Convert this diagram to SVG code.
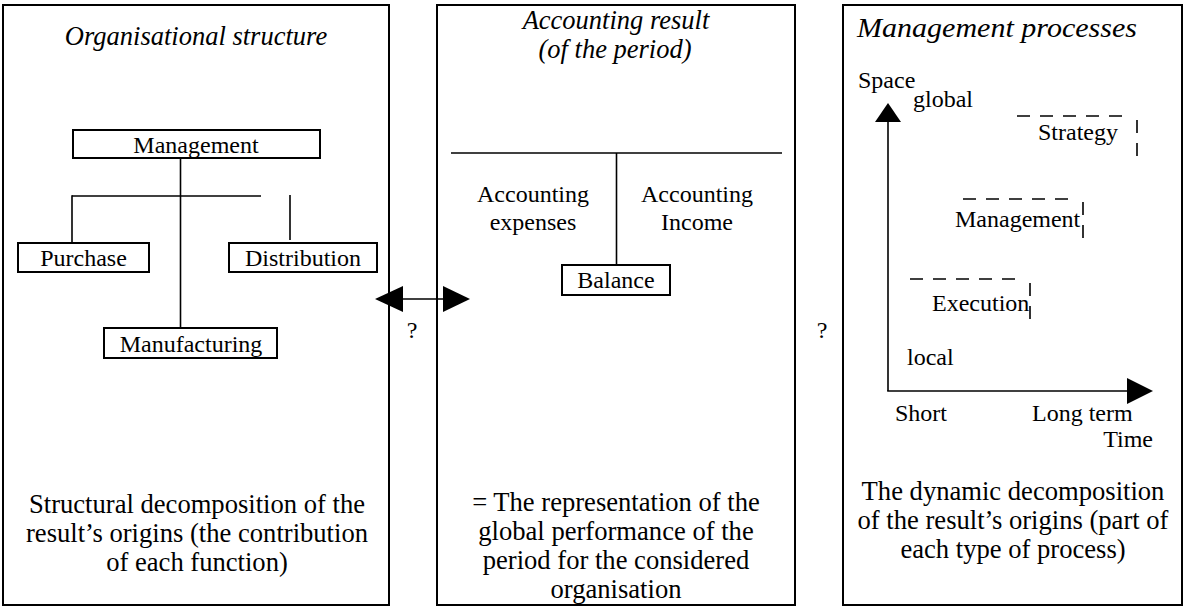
<svg xmlns="http://www.w3.org/2000/svg" width="1187" height="608" viewBox="0 0 1187 608">
<style>
text{font-family:"Liberation Serif","Times New Roman",serif;fill:#000}
.t{font-size:26.5px;font-style:italic;text-anchor:middle}
.b{font-size:26.6px;text-anchor:middle}
.l{font-size:24px}
.m{text-anchor:middle}
.panel{fill:#fff;stroke:#000;stroke-width:2}
.box{fill:#fff;stroke:#000;stroke-width:2}
.ln{stroke:#000;stroke-width:1.6;fill:none}
.ds{stroke:#000;stroke-width:1.6;fill:none;stroke-dasharray:13 10}
</style>
<rect width="1187" height="608" fill="#fff"/>
<g id="panel-left">
<rect class="panel" x="3" y="5" width="386" height="600"/>
<text class="t" x="196" y="45">Organisational structure</text>
<text class="b" x="197" y="513">Structural decomposition of the</text>
<text class="b" x="197" y="542">result’s origins (the contribution</text>
<text class="b" x="197" y="571">of each function)</text>
</g>
<g id="panel-middle">
<rect class="panel" x="437" y="5" width="358" height="600"/>
<text class="t" x="616" y="29">Accounting result</text>
<text class="t" x="615" y="58">(of the period)</text>
<text class="l m" x="533" y="202">Accounting</text>
<text class="l m" x="533" y="230">expenses</text>
<text class="l m" x="697" y="202">Accounting</text>
<text class="l m" x="697" y="230">Income</text>
<text class="b" x="616" y="511">= The representation of the</text>
<text class="b" x="616" y="540">global performance of the</text>
<text class="b" x="616" y="569">period for the considered</text>
<text class="b" x="616" y="598">organisation</text>
</g>
<g id="panel-right">
<rect class="panel" x="843" y="5" width="339" height="600"/>
<text class="t" x="997" y="37" style="font-size:28px" textLength="280" lengthAdjust="spacingAndGlyphs">Management processes</text>
<text class="l" x="858" y="88">Space</text>
<text class="l" x="913" y="107">global</text>
<text class="l" x="907" y="365">local</text>
<text class="l" x="895" y="421">Short</text>
<text class="l" x="1032" y="421">Long term</text>
<text class="l" x="1153" y="447" text-anchor="end">Time</text>
<text class="b" x="1013" y="500">The dynamic decomposition</text>
<text class="b" x="1013" y="529">of the result’s origins (part of</text>
<text class="b" x="1013" y="558">each type of process)</text>
</g>
<g id="node-management">
<rect class="box" x="73" y="130" width="247" height="28"/>
<text class="l m" x="196" y="153">Management</text>
</g>
<g id="node-purchase">
<rect class="box" x="18" y="243" width="131" height="29"/>
<text class="l m" x="83.5" y="266">Purchase</text>
</g>
<g id="node-distribution">
<rect class="box" x="229" y="243" width="148" height="29"/>
<text class="l m" x="303" y="266">Distribution</text>
</g>
<g id="node-manufacturing">
<rect class="box" x="104" y="328" width="173" height="30"/>
<text class="l m" x="191" y="352">Manufacturing</text>
</g>
<g id="node-balance">
<rect class="box" x="562" y="265" width="108" height="30"/>
<text class="l m" x="616" y="288">Balance</text>
</g>
<g id="node-strategy">
<text class="l" x="1038" y="140">Strategy</text>
</g>
<g id="node-management-process">
<text class="l" x="955" y="227">Management</text>
</g>
<g id="node-execution">
<text class="l" x="932" y="311">Execution</text>
</g>
<g id="node-q1"><text class="l m" x="412" y="338">?</text></g>
<g id="node-q2"><text class="l m" x="822" y="338">?</text></g>
<g id="connectors">
<line class="ln" x1="180.5" y1="158" x2="180.5" y2="328"/>
<line class="ln" x1="72" y1="196" x2="261" y2="196"/>
<line class="ln" x1="72" y1="195.2" x2="72" y2="243"/>
<line class="ln" x1="290" y1="195" x2="290" y2="240"/>
<line class="ln" x1="451" y1="153" x2="782" y2="153"/>
<line class="ln" x1="616.5" y1="153" x2="616.5" y2="265"/>
<line class="ln" x1="400" y1="299" x2="446" y2="299"/>
<polygon points="375,299 403,286 403,312"/>
<polygon points="470,299 443,286 443,312"/>
<line class="ln" x1="888" y1="120" x2="888" y2="391"/>
<polygon points="888,103 875,122 901,122"/>
<line class="ln" x1="887.2" y1="391" x2="1130" y2="391"/>
<polygon points="1153,391 1127,378 1127,404"/>
<line class="ds" x1="1017" y1="116" x2="1127" y2="116"/>
<line class="ds" x1="1137" y1="120" x2="1137" y2="158"/>
<line class="ds" x1="963" y1="199" x2="1073" y2="199"/>
<line class="ds" x1="1083" y1="202" x2="1083" y2="238" stroke-dasharray="16 7"/>
<line class="ds" x1="910" y1="279" x2="1022" y2="279"/>
<line class="ds" x1="1030" y1="283" x2="1030" y2="322" stroke-dasharray="16 5"/>
</g>
</svg>
